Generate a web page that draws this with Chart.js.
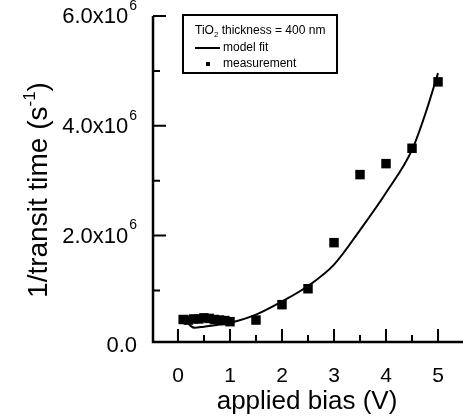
<!DOCTYPE html>
<html><head><meta charset="utf-8">
<script src="https://cdn.jsdelivr.net/npm/chart.js@4/dist/chart.umd.min.js"></script>
<style>html,body{margin:0;padding:0;background:#fff}#w{width:463px;height:417px}</style>
</head><body><div id="w"><canvas id="c" width="463" height="417"></canvas></div>
<script>
// ---- data ----
const biasMeasured = [0.1, 0.2, 0.3, 0.4, 0.5, 0.6, 0.7, 0.8, 0.9, 1.0, 1.5, 2.0, 2.5, 3.0, 3.5, 4.0, 4.5, 5.0];
const rateMeasured = [0.47e6, 0.46e6, 0.48e6, 0.48e6, 0.50e6, 0.49e6, 0.47e6, 0.46e6, 0.45e6, 0.43e6, 0.46e6, 0.74e6, 1.03e6, 1.87e6, 3.11e6, 3.31e6, 3.59e6, 4.80e6];
const biasFit = [0.18, 0.25, 0.32, 0.5, 0.75, 1.0, 1.5, 2.0, 2.5, 3.0, 3.5, 4.0, 4.5, 4.75, 5.0];
const rateFit = [0.42e6, 0.35e6, 0.32e6, 0.34e6, 0.37e6, 0.41e6, 0.56e6, 0.80e6, 1.08e6, 1.47e6, 2.10e6, 2.78e6, 3.56e6, 4.20e6, 4.96e6];
const xMajorTicks = [0, 1, 2, 3, 4, 5];
const xMinorTicks = [0.5, 1.5, 2.5, 3.5, 4.5];
const xTickLabels = ['0', '1', '2', '3', '4', '5'];
const yMajorTicks = [0, 2e6, 4e6, 6e6];
const yMinorTicks = [1e6, 3e6, 5e6];
const yTickMantissa = ['0.0', '2.0x10', '4.0x10', '6.0x10'];
const yTickExponent = ['', '6', '6', '6'];
const xTitle = 'applied bias (V)';
const yTitleMain = '1/transit time (s';
const yTitleSup = '-1';
const yTitleEnd = ')';
const legendHeader = 'TiO';
const legendHeaderSub = '2';
const legendHeaderRest = ' thickness = 400 nm';
const seriesNames = ['model fit', 'measurement'];

const FONT = '"Liberation Sans", Arial, Helvetica, sans-serif';

const decor = {
  id: 'decor',
  afterDraw(chart) {
    const ctx = chart.ctx, a = chart.chartArea;
    const xs = chart.scales.x, ys = chart.scales.y;
    ctx.save();
    ctx.strokeStyle = '#000';
    ctx.fillStyle = '#000';
    // axes
    ctx.lineWidth = 2.5;
    ctx.beginPath();
    ctx.moveTo(a.left, a.top);
    ctx.lineTo(a.left, a.bottom);
    ctx.lineTo(a.right, a.bottom);
    ctx.stroke();
    // ticks
    ctx.lineWidth = 2;
    ctx.beginPath();
    xMajorTicks.forEach(v => { const p = xs.getPixelForValue(v); ctx.moveTo(p, a.bottom); ctx.lineTo(p, a.bottom - 13); });
    xMinorTicks.forEach(v => { const p = xs.getPixelForValue(v); ctx.moveTo(p, a.bottom); ctx.lineTo(p, a.bottom - 7); });
    yMajorTicks.forEach(v => { if (v < ys.min) return; const p = ys.getPixelForValue(v); ctx.moveTo(a.left, p); ctx.lineTo(a.left + 13, p); });
    yMinorTicks.forEach(v => { const p = ys.getPixelForValue(v); ctx.moveTo(a.left, p); ctx.lineTo(a.left + 7, p); });
    ctx.stroke();
    // x tick labels
    ctx.font = '21px ' + FONT;
    ctx.textAlign = 'center';
    ctx.textBaseline = 'middle';
    xMajorTicks.forEach((v, i) => ctx.fillText(xTickLabels[i], xs.getPixelForValue(v), 376));
    // y tick labels with superscripts
    yMajorTicks.forEach((v, i) => {
      const p = ys.getPixelForValue(v);
      ctx.textBaseline = 'middle';
      if (yTickExponent[i]) {
        ctx.font = '14px ' + FONT;
        ctx.textAlign = 'right';
        ctx.fillText(yTickExponent[i], 137, p - 10);
        const ew = ctx.measureText(yTickExponent[i]).width;
        ctx.font = '22px ' + FONT;
        ctx.fillText(yTickMantissa[i], 137 - ew - 1, p + 1);
      } else {
        ctx.font = '22px ' + FONT;
        ctx.textAlign = 'right';
        ctx.fillText(yTickMantissa[i], 137, p + 1);
      }
    });
    // x title
    ctx.font = '26px ' + FONT;
    ctx.textAlign = 'center';
    ctx.textBaseline = 'alphabetic';
    ctx.fillText(xTitle, 307, 409);
    // y title (rotated)
    ctx.save();
    ctx.translate(47, 190);
    ctx.rotate(-Math.PI / 2);
    ctx.font = '28px ' + FONT;
    const w1 = ctx.measureText(yTitleMain).width;
    ctx.font = '17px ' + FONT;
    const w2 = ctx.measureText(yTitleSup).width;
    ctx.font = '28px ' + FONT;
    const w3 = ctx.measureText(yTitleEnd).width;
    let x0 = -(w1 + w2 + w3) / 2;
    ctx.textAlign = 'left';
    ctx.textBaseline = 'alphabetic';
    ctx.fillText(yTitleMain, x0, 0);
    ctx.font = '17px ' + FONT;
    ctx.fillText(yTitleSup, x0 + w1, -12);
    ctx.font = '28px ' + FONT;
    ctx.fillText(yTitleEnd, x0 + w1 + w2, 0);
    ctx.restore();
    // legend box
    ctx.lineWidth = 2;
    ctx.fillStyle = '#fff';
    ctx.fillRect(183, 15, 154, 58);
    ctx.strokeRect(183, 15, 154, 58);
    ctx.fillStyle = '#000';
    ctx.font = '12px ' + FONT;
    ctx.textAlign = 'left';
    ctx.textBaseline = 'middle';
    let lx = 195;
    ctx.fillText(legendHeader, lx, 31);
    lx += ctx.measureText(legendHeader).width;
    ctx.font = '8px ' + FONT;
    ctx.fillText(legendHeaderSub, lx, 35);
    lx += ctx.measureText(legendHeaderSub).width;
    ctx.font = '12px ' + FONT;
    ctx.fillText(legendHeaderRest, lx, 31);
    ctx.lineWidth = 2;
    ctx.beginPath();
    ctx.moveTo(195, 48); ctx.lineTo(220, 48);
    ctx.stroke();
    ctx.fillText(seriesNames[0], 223, 48);
    ctx.fillRect(206, 62, 4, 4);
    ctx.fillText(seriesNames[1], 223, 64);
    ctx.restore();
  }
};

new Chart(document.getElementById('c'), {
  type: 'scatter',
  data: {
    datasets: [
      {
        label: seriesNames[0],
        data: biasFit.map((x, i) => ({ x, y: rateFit[i] })),
        showLine: true,
        borderColor: '#000',
        borderWidth: 2,
        pointRadius: 0,
        cubicInterpolationMode: 'monotone',
        order: 1
      },
      {
        label: seriesNames[1],
        data: biasMeasured.map((x, i) => ({ x, y: rateMeasured[i] })),
        showLine: false,
        pointStyle: 'rect',
        pointRadius: 6.7,
        borderWidth: 0,
        backgroundColor: '#000',
        order: 2
      }
    ]
  },
  options: {
    responsive: false,
    devicePixelRatio: 1,
    animation: false,
    layout: { autoPadding: false, padding: { left: 153, top: 16, right: 0, bottom: 75 } },
    scales: {
      x: { type: 'linear', min: -0.48, max: 5.48, display: false },
      y: { type: 'linear', min: 0.06e6, max: 6e6, display: false }
    },
    plugins: { legend: { display: false }, tooltip: { enabled: false } }
  },
  plugins: [decor]
});
</script>
</body></html>
